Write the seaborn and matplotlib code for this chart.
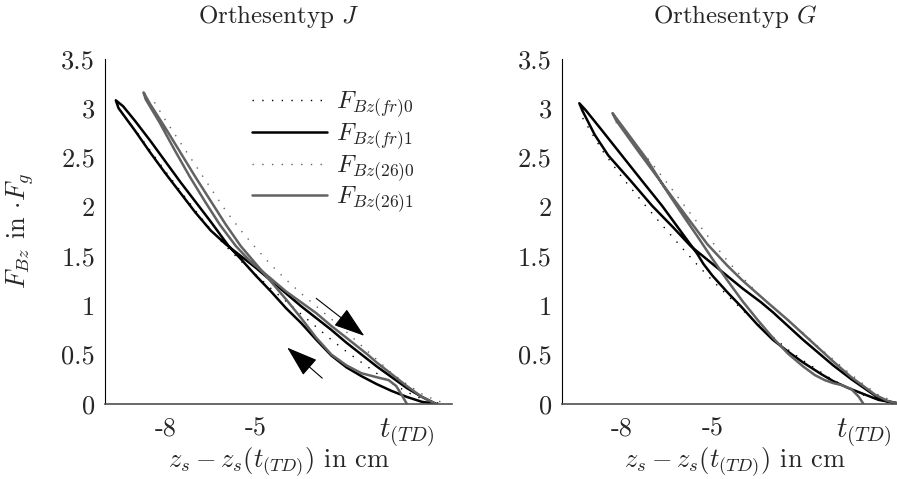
import numpy as np
import pandas as pd
import seaborn as sns
import matplotlib.pyplot as plt

# ---- data (x in cm relative to t_(TD), y = F_Bz in F_g) ----
# left panel: Orthesentyp J
j_fr1_x = [0.96, 0.5, 0.0, -0.5, -1.0, -1.5, -2.0, -2.5, -3.0, -3.5, -4.0, -4.5, -5.0, -5.5, -5.9,
           -6.5, -7.0, -7.5, -8.0, -8.5, -9.0, -9.4, -9.64,
           -9.55, -9.0, -8.5, -8.0, -7.5, -7.0, -6.5, -6.0, -5.5, -5.0, -4.5, -4.0, -3.5, -3.0,
           -2.5, -2.0, -1.5, -1.0, -0.5, 0.0, 0.5, 0.96]
j_fr1_y = [0.0, 0.02, 0.07, 0.13, 0.2, 0.28, 0.37, 0.49, 0.65, 0.82, 0.97, 1.14, 1.3, 1.47, 1.6,
           1.85, 2.05, 2.25, 2.46, 2.67, 2.87, 3.02, 3.08,
           3.0, 2.77, 2.55, 2.34, 2.14, 1.94, 1.76, 1.62, 1.5, 1.38, 1.25, 1.12, 0.99, 0.87,
           0.75, 0.62, 0.5, 0.38, 0.27, 0.16, 0.07, 0.0]
j_fr0_x = [-9.5, -9.0, -8.5, -8.0, -7.5, -7.0, -6.5, -6.0, -5.5, -5.0, -4.5, -4.0, -3.5, -3.0,
           -2.5, -2.0, -1.5, -1.0, -0.5, 0.0, 0.5, 1.0, 1.3]
j_fr0_y = [2.98, 2.78, 2.57, 2.36, 2.16, 1.96, 1.77, 1.6, 1.45, 1.31, 1.17, 1.04, 0.91, 0.78,
           0.65, 0.53, 0.42, 0.31, 0.21, 0.12, 0.05, 0.01, 0.0]
j_261_x = [0.0, -0.15, -0.35, -0.6, -1.0, -1.5, -2.0, -2.5, -3.0, -3.5, -4.0, -4.5, -5.0, -5.5,
           -6.0, -6.5, -7.0, -7.5, -8.0, -8.5, -8.72,
           -8.65, -8.2, -7.7, -7.2, -6.68, -6.2, -5.66, -5.2, -4.5, -4.0, -3.5, -3.0, -2.5,
           -2.0, -1.3, -1.0, -0.5, 0.0, 0.5, 0.96]
j_261_y = [0.0, 0.08, 0.18, 0.24, 0.27, 0.31, 0.39, 0.5, 0.67, 0.87, 1.06, 1.24, 1.42, 1.6,
           1.82, 2.06, 2.3, 2.55, 2.8, 3.04, 3.16,
           3.09, 2.86, 2.58, 2.31, 2.05, 1.82, 1.6, 1.45, 1.27, 1.14, 1.03, 0.92, 0.79,
           0.67, 0.5, 0.42, 0.3, 0.18, 0.07, 0.0]
j_260_x = [-8.36, -8.0, -7.5, -7.0, -6.5, -6.0, -5.5, -5.0, -4.5, -4.0, -3.5, -3.0, -2.5, -2.0,
           -1.5, -1.0, -0.5, 0.0, 0.5, 1.0, 1.4]
j_260_y = [3.06, 2.88, 2.65, 2.42, 2.19, 1.96, 1.76, 1.58, 1.41, 1.26, 1.12, 0.99, 0.86, 0.73,
           0.59, 0.45, 0.31, 0.2, 0.1, 0.03, 0.0]

# right panel: Orthesentyp G
g_fr1_x = [1.2, 0.5, 0.0, -0.5, -1.0, -1.39, -2.0, -2.5, -3.0, -3.5, -4.06, -4.5, -5.0, -5.3,
           -5.5, -6.0, -6.67, -7.3, -8.0, -8.7, -9.2, -9.41,
           -9.3, -8.9, -8.45, -7.7, -7.0, -6.3, -5.72, -5.0, -4.0, -3.39, -3.0, -2.0, -1.0,
           -0.4, 0.4, 0.8, 1.2]
g_fr1_y = [0.0, 0.04, 0.1, 0.16, 0.23, 0.3, 0.42, 0.53, 0.65, 0.8, 0.99, 1.13, 1.3, 1.42,
           1.52, 1.73, 2.01, 2.25, 2.52, 2.79, 2.98, 3.05,
           2.97, 2.73, 2.52, 2.26, 2.01, 1.79, 1.6, 1.42, 1.17, 1.03, 0.93, 0.65, 0.39,
           0.25, 0.08, 0.025, 0.0]
g_fr0_x = [-9.3, -8.67, -8.0, -7.3, -6.6, -6.0, -5.5, -5.0, -4.5, -4.0, -3.5, -3.0, -2.5, -2.0,
           -1.5, -1.0, -0.5, 0.0, 0.5, 1.2]
g_fr0_y = [2.9, 2.58, 2.3, 2.04, 1.79, 1.58, 1.41, 1.25, 1.1, 0.95, 0.81, 0.68, 0.55, 0.44,
           0.34, 0.24, 0.16, 0.09, 0.04, 0.0]
g_261_x = [0.0, -0.15, -0.4, -0.72, -1.0, -1.28, -1.6, -2.0, -2.5, -3.0, -3.5, -4.0, -4.5,
           -5.0, -5.5, -5.95, -6.6, -7.17, -7.8, -8.31,
           -8.2, -7.45, -6.8, -6.22, -5.17, -4.5, -4.0, -3.22, -2.5, -2.0, -1.0, -0.4, 0.4,
           0.8, 1.2]
g_261_y = [0.0, 0.07, 0.15, 0.19, 0.21, 0.24, 0.29, 0.38, 0.51, 0.67, 0.85, 1.04, 1.25,
           1.47, 1.7, 1.9, 2.2, 2.48, 2.74, 2.95,
           2.88, 2.56, 2.29, 2.05, 1.62, 1.4, 1.25, 1.04, 0.85, 0.71, 0.43, 0.27, 0.09,
           0.03, 0.0]
g_260_x = [-8.2, -7.7, -7.06, -6.5, -6.0, -5.5, -5.0, -4.5, -4.0, -3.5, -3.0, -2.5, -2.0, -1.5,
           -1.0, -0.5, 0.0, 0.5, 1.2]
g_260_y = [2.86, 2.68, 2.46, 2.24, 2.04, 1.84, 1.64, 1.45, 1.28, 1.12, 0.98, 0.85, 0.72, 0.58,
           0.45, 0.32, 0.2, 0.09, 0.0]

y_ticks = [0, 0.5, 1, 1.5, 2, 2.5, 3, 3.5]
y_ticklabels = ["0", "0.5", "1", "1.5", "2", "2.5", "3", "3.5"]
x_ticks = [-8, -5, 0]
x_ticklabels = ["-8", "-5", r"$t_{(TD)}$"]
panel_titles = [r"Orthesentyp $J$", r"Orthesentyp $G$"]
legend_labels = [r"$F_{Bz(fr)0}$", r"$F_{Bz(fr)1}$", r"$F_{Bz(26)0}$", r"$F_{Bz(26)1}$"]

sns.set_style("white")
plt.rcParams["font.family"] = "serif"
plt.rcParams["font.serif"] = ["cmr10", "DejaVu Serif"]
plt.rcParams["mathtext.fontset"] = "cm"
plt.rcParams["axes.unicode_minus"] = False

BLACK = "#000000"
GRAY = "#626262"
DOT = (0, (1, 6))
FS = 19

fig = plt.figure(figsize=(8.97, 4.79), dpi=100)
ax_l = fig.add_axes([0.117, 0.157, 0.387, 0.720])
ax_r = fig.add_axes([0.626, 0.157, 0.387, 0.720])

panels = [
    (ax_l, [(j_fr0_x, j_fr0_y), (j_fr1_x, j_fr1_y), (j_260_x, j_260_y), (j_261_x, j_261_y)]),
    (ax_r, [(g_fr0_x, g_fr0_y), (g_fr1_x, g_fr1_y), (g_260_x, g_260_y), (g_261_x, g_261_y)]),
]
styles = [
    dict(color=BLACK, lw=1.0, linestyle=DOT),
    dict(color=BLACK, lw=1.8, linestyle="-"),
    dict(color=GRAY, lw=1.0, linestyle=DOT),
    dict(color=GRAY, lw=1.8, linestyle="-"),
]

for i, (ax, series) in enumerate(panels):
    for (xs, ys), st, lab in zip(series, styles, legend_labels):
        sns.lineplot(x=xs, y=ys, sort=False, estimator=None, ax=ax,
                     label=lab if i == 0 else None, **st)
    ax.set_xlim(-10, 1.5)
    ax.set_ylim(0, 3.5)
    ax.set_xticks(x_ticks)
    ax.set_xticklabels(x_ticklabels)
    ax.set_yticks(y_ticks)
    ax.set_yticklabels(y_ticklabels)
    ax.tick_params(direction="out", length=4, width=0.8, labelsize=FS, pad=3)
    ax.tick_params(axis="x", pad=5)
    ax.get_xticklabels()[2].set_fontsize(21)
    for s in ["top", "right"]:
        ax.spines[s].set_visible(False)
    ax.spines["left"].set_color("black")
    ax.spines["left"].set_linewidth(0.8)
    ax.spines["bottom"].set_color("#505050")
    ax.spines["bottom"].set_linewidth(1.2)
    ax.set_title(panel_titles[i], fontsize=18, y=1.122, pad=0, va="center")
    ax.set_xlabel(r"$z_s - z_s(t_{(TD)})$ in cm", fontsize=19, va="center")
    ax.xaxis.set_label_coords(0.5, -0.17)
    if ax.get_legend() is not None:
        ax.get_legend().remove()

ax_l.set_ylabel(r"$F_{Bz}$ in $\cdot F_g$", fontsize=FS, va="center")
ax_l.yaxis.set_label_coords(-0.245, 0.5)
ax_r.set_ylabel("")

# load / unload direction arrows
arrow_kw = dict(arrowstyle="-|>,head_length=0.9,head_width=0.3", color="black", lw=0.8,
                shrinkA=0, shrinkB=0, mutation_scale=22)
ax_l.annotate("", xy=(-1.41, 0.69), xytext=(-3.0, 1.07), arrowprops=arrow_kw)
ax_l.annotate("", xy=(-3.96, 0.57), xytext=(-2.8, 0.26), arrowprops=arrow_kw)

handles, labels = ax_l.get_legend_handles_labels()
ax_l.legend(handles, labels, loc="upper left", bbox_to_anchor=(0.36, 0.975), frameon=False,
            handlelength=3.0, handletextpad=0.35, labelspacing=0.07, fontsize=18)

fig.savefig("out.png", dpi=100)
